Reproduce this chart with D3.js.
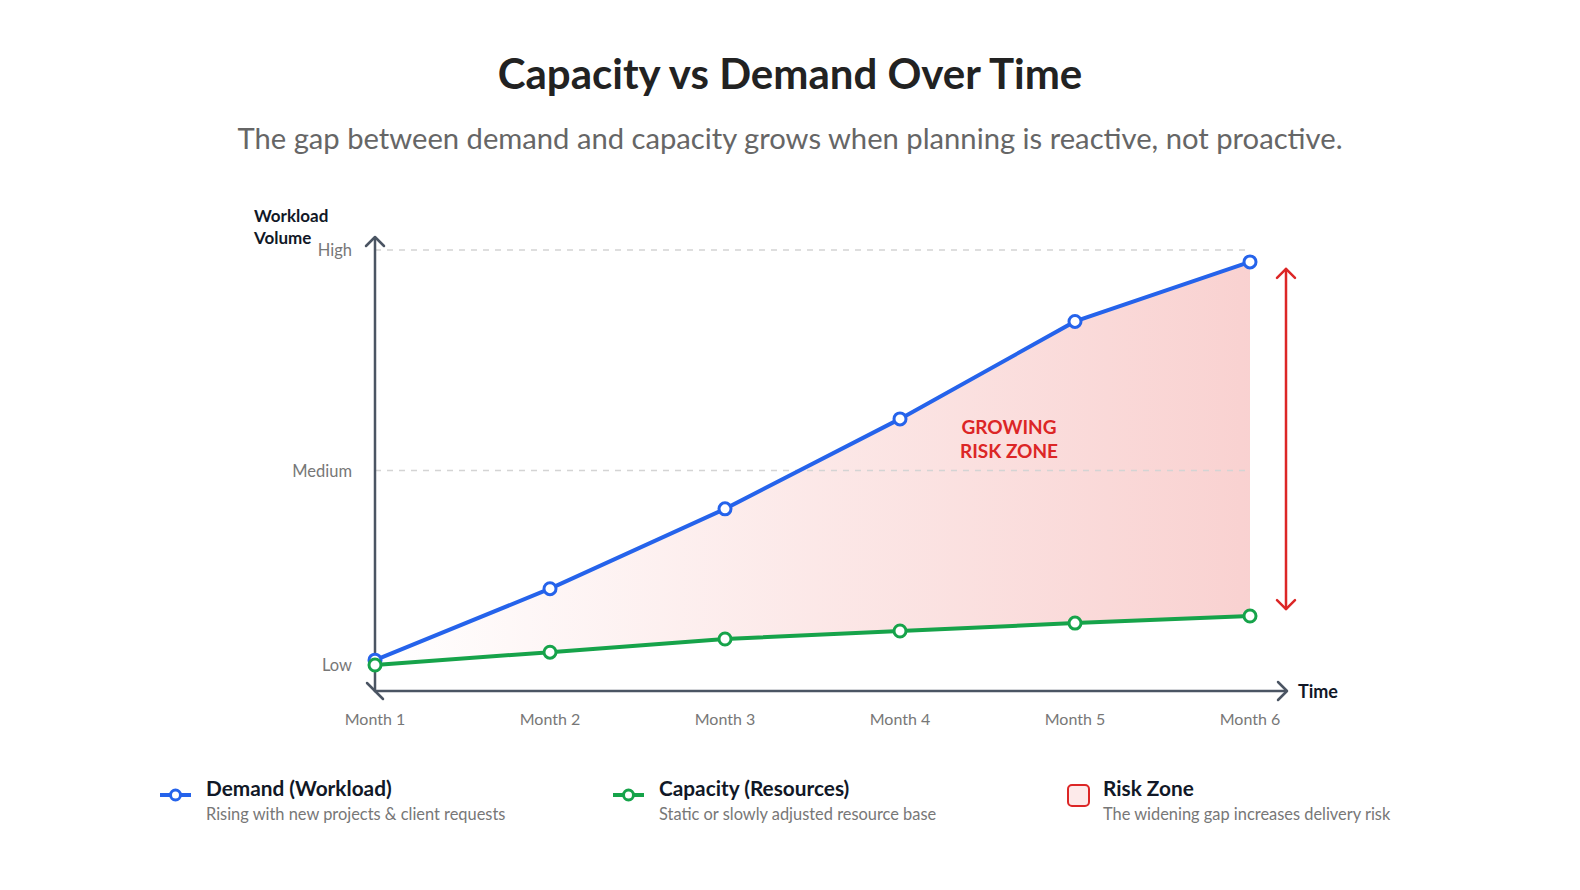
<!DOCTYPE html>
<html><head><meta charset="utf-8">
<script src="https://cdn.jsdelivr.net/npm/d3@7"></script>
<style>
html,body{margin:0;padding:0;background:#fff;}
svg{display:block;font-family:Lato,"Noto Sans",sans-serif;}
</style></head>
<body><svg id="chart" width="1580" height="890"></svg>
<script>
const months = ["Month 1","Month 2","Month 3","Month 4","Month 5","Month 6"];
const demand = [7.0, 23.2, 41.3, 61.7, 83.8, 97.3];
const capacity = [5.9, 8.8, 11.8, 13.6, 15.4, 17.0];
const yTickValues = [6, 50, 100];
const yTickLabels = ["Low","Medium","High"];

const svg = d3.select("#chart");
const x = d3.scalePoint().domain(months).range([375, 1250]);
const y = d3.scaleLinear().domain([0, 100]).range([691, 250]);

const axisColor = "#4b5563";
const blue = "#2563eb", green = "#16a34a", red = "#dc2626";

// Title
svg.append("text").attr("x", 790).attr("y", 89).attr("text-anchor","middle")
  .attr("font-size", 42).attr("font-weight", 700).attr("fill", "#222")
  .text("Capacity vs Demand Over Time");
svg.append("text").attr("x", 790).attr("y", 149).attr("text-anchor","middle")
  .attr("font-size", 29.2).attr("fill", "#666")
  .text("The gap between demand and capacity grows when planning is reactive, not proactive.");

// gradient
const defs = svg.append("defs");
const grad = defs.append("linearGradient").attr("id","riskGrad")
  .attr("gradientUnits","userSpaceOnUse")
  .attr("x1", x(months[0])).attr("x2", x(months[5])).attr("y1",0).attr("y2",0);
grad.append("stop").attr("offset","0%").attr("stop-color","#e53935").attr("stop-opacity",0);
grad.append("stop").attr("offset","100%").attr("stop-color","#e53935").attr("stop-opacity",0.23);

// risk area
const data = months.map((m,i)=>({m, d: demand[i], c: capacity[i]}));
svg.append("path").datum(data)
  .attr("d", d3.area().x(d=>x(d.m)).y0(d=>y(d.c)).y1(d=>y(d.d)))
  .attr("fill","url(#riskGrad)");

// gridlines
const grid = svg.append("g");
yTickValues.slice(1).forEach(v => {
  grid.append("line").attr("x1", x(months[0])).attr("x2", x(months[5]))
    .attr("y1", y(v)).attr("y2", y(v))
    .attr("stroke", "#d4d4d4").attr("stroke-width", 1.5).attr("stroke-dasharray","6,6");
});

// axes
const ax = svg.append("g").attr("fill","none").attr("stroke", axisColor)
  .attr("stroke-width", 2.5).attr("stroke-linecap","round").attr("stroke-linejoin","round");
ax.append("line").attr("x1", 375).attr("x2", 375).attr("y1", 691).attr("y2", 238);
ax.append("path").attr("d", "M366,246 L375,237 L384,246");
ax.append("line").attr("x1", 375).attr("x2", 1286).attr("y1", 691).attr("y2", 691);
ax.append("path").attr("d", "M1278,682 L1287,691 L1278,700");
ax.append("path").attr("d", "M367,683 L375,691 L383,699");

// tick labels
svg.append("g").selectAll("text").data(months).join("text")
  .attr("x", d=>x(d)).attr("y", 725).attr("text-anchor","middle")
  .attr("font-size", 16).attr("fill", "#777").text(d=>d);
svg.append("g").selectAll("text").data(yTickValues).join("text")
  .attr("x", 352).attr("y", d=>y(d)+6).attr("text-anchor","end")
  .attr("font-size", 16.5).attr("fill", "#777").text((d,i)=>yTickLabels[i]);

// axis titles
const yt = svg.append("text").attr("x", 254).attr("font-size", 17).attr("font-weight", 700).attr("fill","#111827");
yt.append("tspan").attr("x",254).attr("y",222).text("Workload");
yt.append("tspan").attr("x",254).attr("y",244).text("Volume");
svg.append("text").attr("x", 1298).attr("y", 698).attr("font-size", 18).attr("font-weight", 700)
  .attr("fill","#111827").text("Time");

// lines
const line = key => d3.line().x(d=>x(d.m)).y(d=>y(d[key]));
svg.append("path").datum(data).attr("d", line("c")).attr("fill","none")
  .attr("stroke", green).attr("stroke-width", 4);
svg.append("path").datum(data).attr("d", line("d")).attr("fill","none")
  .attr("stroke", blue).attr("stroke-width", 4);
svg.append("g").selectAll("circle").data(data).join("circle")
  .attr("cx", d=>x(d.m)).attr("cy", d=>y(d.d)).attr("r", 6)
  .attr("fill","#fff").attr("stroke", blue).attr("stroke-width", 3);
svg.append("g").selectAll("circle").data(data).join("circle")
  .attr("cx", d=>x(d.m)).attr("cy", d=>y(d.c)).attr("r", 6)
  .attr("fill","#fff").attr("stroke", green).attr("stroke-width", 3);

// risk label
const rl = svg.append("text").attr("text-anchor","middle").attr("font-size", 19)
  .attr("font-weight", 700).attr("fill", red);
rl.append("tspan").attr("x", 1009).attr("y", 434).text("GROWING");
rl.append("tspan").attr("x", 1009).attr("y", 458).text("RISK ZONE");

// red double arrow
const ra = svg.append("g").attr("fill","none").attr("stroke", red).attr("stroke-width", 2.5)
  .attr("stroke-linecap","round").attr("stroke-linejoin","round");
const last = data[5];
const ax6 = 1286;
ra.append("line").attr("x1", ax6).attr("x2", ax6).attr("y1", y(last.d)+7).attr("y2", y(last.c)-7);
ra.append("path").attr("d", `M${ax6-9},${y(last.d)+16} L${ax6},${y(last.d)+7} L${ax6+9},${y(last.d)+16}`);
ra.append("path").attr("d", `M${ax6-9},${y(last.c)-16} L${ax6},${y(last.c)-7} L${ax6+9},${y(last.c)-16}`);

// legend
const legend = [
  {title:"Demand (Workload)", sub:"Rising with new projects & client requests", type:"line", color: blue, x:160},
  {title:"Capacity (Resources)", sub:"Static or slowly adjusted resource base", type:"line", color: green, x:613},
  {title:"Risk Zone", sub:"The widening gap increases delivery risk", type:"box", color: red, x:1068}
];
const lg = svg.append("g");
legend.forEach(l => {
  const g = lg.append("g");
  const tx = l.type === "line" ? l.x+46 : l.x+35;
  if (l.type === "line") {
    g.append("line").attr("x1", l.x).attr("x2", l.x+31).attr("y1", 795).attr("y2", 795)
      .attr("stroke", l.color).attr("stroke-width", 4);
    g.append("circle").attr("cx", l.x+15.5).attr("cy", 795).attr("r", 5)
      .attr("fill","#fff").attr("stroke", l.color).attr("stroke-width", 3);
  } else {
    g.append("rect").attr("x", l.x).attr("y", 785).attr("width", 21).attr("height", 21).attr("rx", 4)
      .attr("fill", "#fdeaea").attr("stroke", l.color).attr("stroke-width", 2);
  }
  g.append("text").attr("x", tx).attr("y", 796).attr("font-size", 20.8).attr("font-weight",700)
    .attr("fill","#111827").text(l.title);
  g.append("text").attr("x", tx).attr("y", 820).attr("font-size", 16.4)
    .attr("fill","#777").text(l.sub);
});
</script></body></html>
